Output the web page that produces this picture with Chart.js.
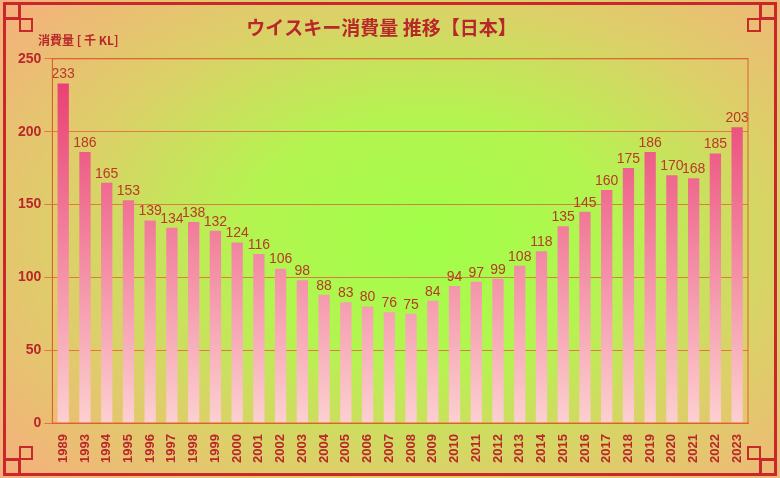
<!DOCTYPE html><html><head><meta charset="utf-8">
<script src="https://cdn.jsdelivr.net/npm/chart.js@4"></script>
<style>
html,body{margin:0;padding:0;}
#wrap{position:relative;width:780px;height:478px;overflow:hidden;
background:radial-gradient(ellipse 80% 85% at 55% 50%, #a0ff48 0%, #b4f450 30%, #dcd068 58%, #ffa484 100%);}
.fr{position:absolute;border:3px solid #c8282a;box-sizing:border-box;}
canvas{position:absolute;left:0;top:0;}
</style></head><body>
<div id="wrap">
<canvas id="c" width="780" height="478"></canvas>
<div class="fr" style="left:3px;top:2px;width:774px;height:474px;"></div>
<div class="fr" style="left:3px;top:2px;width:18px;height:18px;"></div>
<div class="fr" style="left:19px;top:18px;width:14px;height:14px;border-width:2px"></div>
<div class="fr" style="right:3px;top:2px;width:18px;height:18px;"></div>
<div class="fr" style="right:19px;top:18px;width:14px;height:14px;border-width:2px"></div>
<div class="fr" style="left:3px;bottom:2px;width:18px;height:18px;"></div>
<div class="fr" style="left:19px;bottom:18px;width:14px;height:14px;border-width:2px"></div>
<div class="fr" style="right:3px;bottom:2px;width:18px;height:18px;"></div>
<div class="fr" style="right:19px;bottom:18px;width:14px;height:14px;border-width:2px"></div>
</div>
<script>
const years=['1989','1993','1994','1995','1996','1997','1998','1999','2000','2001','2002','2003','2004','2005','2006','2007','2008','2009','2010','2011','2012','2013','2014','2015','2016','2017','2018','2019','2020','2021','2022','2023'];
const values=[233,186,165,153,139,134,138,132,124,116,106,98,88,83,80,76,75,84,94,97,99,108,118,135,145,160,175,186,170,168,185,203];
const yTicks=[0,50,100,150,200,250];
const red='#b8282a';
const labelsPlugin={id:'lbl',afterDatasetsDraw(ch){const ctx=ch.ctx;const m=ch.getDatasetMeta(0);ctx.save();ctx.font='14px "Liberation Sans"';ctx.fillStyle='#b83a28';ctx.textAlign='center';ctx.textBaseline='bottom';
m.data.forEach((b,i)=>ctx.fillText(values[i],b.x,b.y-2));
ctx.font='bold 12px "Noto Sans CJK JP"';ctx.fillStyle=red;ctx.textAlign='left';ctx.textBaseline='middle';ctx.fillText('消費量 [ 千 KL]',38,40);ctx.restore();}};
new Chart(document.getElementById('c'),{type:'bar',data:{labels:years,datasets:[{data:values,
backgroundColor:(c)=>{const a=c.chart.chartArea;if(!a)return '#e84a70';const g=c.chart.ctx.createLinearGradient(0,a.top,0,a.bottom);g.addColorStop(0,'#e8366c');g.addColorStop(1,'#fcd0d0');return g;},
barPercentage:0.52,categoryPercentage:1}]},
options:{responsive:false,animation:false,layout:{padding:{left:15,right:32,top:4,bottom:12}},
plugins:{legend:{display:false},tooltip:{enabled:false},title:{display:true,text:'ウイスキー消費量 推移【日本】',color:red,font:{family:'"Noto Sans CJK JP"',size:19,weight:'bold'},padding:{top:12,bottom:20}}},
scales:{x:{grid:{display:false,drawTicks:true},border:{color:'#e06030'},ticks:{color:red,font:{family:'"Liberation Sans"',weight:'bold',size:13},maxRotation:90,minRotation:90,autoSkip:false}},
y:{min:0,max:250,afterBuildTicks:(s)=>{s.ticks=yTicks.map(v=>({value:v}));},grid:{color:'rgba(230,80,60,0.7)',tickLength:8},border:{color:'#e06030'},ticks:{color:red,font:{family:'"Liberation Sans"',weight:'bold',size:14}}}}},
plugins:[labelsPlugin,{id:'frame',afterDraw(ch){const a=ch.chartArea,ctx=ch.ctx;ctx.save();ctx.strokeStyle='#e06030';ctx.lineWidth=1;ctx.strokeRect(a.left,a.top,a.right-a.left,a.bottom-a.top);ctx.restore();}}]});
</script></body></html>
